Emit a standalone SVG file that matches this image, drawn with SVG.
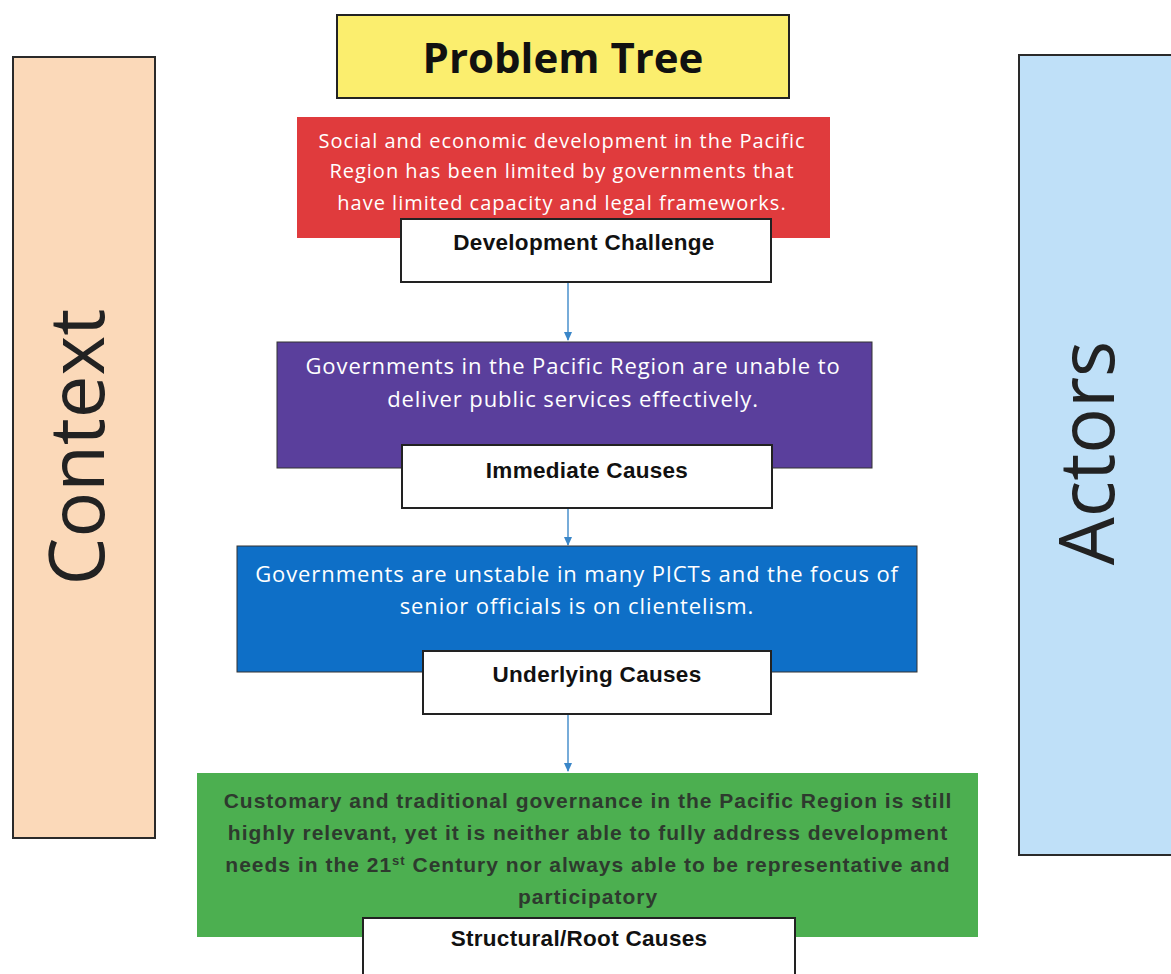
<svg xmlns="http://www.w3.org/2000/svg" width="1171" height="974" viewBox="0 0 1171 974">
<style>
.side{stroke:#2a2a2a;stroke-width:2}
.lbl{fill:#fff;stroke:#222;stroke-width:2}
.wt{font-family:"Open Sans","Liberation Sans",sans-serif;fill:#fff;text-anchor:middle}
.lt{font-family:"Liberation Sans",sans-serif;font-weight:bold;fill:#111;text-anchor:middle;font-size:22.5px;letter-spacing:0.3px}
.gt{font-family:"Liberation Sans",sans-serif;font-weight:bold;fill:#2e3a2e;text-anchor:middle;font-size:21px;letter-spacing:1px}
.big{font-family:"Open Sans","Liberation Sans",sans-serif;fill:#222;font-size:76px;text-anchor:middle}
.conn{stroke:#4a90cc;stroke-width:1.5;fill:none}
</style>
<defs>
<marker id="ah" markerWidth="10" markerHeight="10" refX="8" refY="5" orient="auto" markerUnits="userSpaceOnUse">
<path d="M0,1 L9,5 L0,9 z" fill="#3a86c8"/>
</marker>
</defs>
<rect width="1171" height="974" fill="#fff"/>
<g id="context">
<rect class="side" x="13" y="57" width="142" height="781" fill="#fbd9b9"/>
<text class="big" transform="translate(104,447) rotate(-90)">Context</text>
</g>
<g id="actors">
<rect class="side" x="1019" y="55" width="160" height="800" fill="#bfe0f8"/>
<text class="big" transform="translate(1114,453) rotate(-90)">Actors</text>
</g>
<g id="title">
<rect x="337" y="15" width="452" height="83" fill="#fbee6e" stroke="#222" stroke-width="2"/>
<text x="563" y="73" font-family="'Open Sans','Liberation Sans',sans-serif" font-weight="bold" font-size="42" fill="#111" text-anchor="middle">Problem Tree</text>
</g>
<g id="connectors">
<line class="conn" x1="568" y1="282" x2="568" y2="340" marker-end="url(#ah)"/>
<line class="conn" x1="568" y1="508" x2="568" y2="545" marker-end="url(#ah)"/>
<line class="conn" x1="568" y1="714" x2="568" y2="771" marker-end="url(#ah)"/>
</g>
<g id="challenge">
<rect x="297" y="117" width="533" height="121" fill="#e03b3d"/>
<text class="wt" font-size="20" letter-spacing="1" x="562" y="148">Social and economic development in the Pacific</text>
<text class="wt" font-size="20" letter-spacing="1" x="562" y="178">Region has been limited by governments that</text>
<text class="wt" font-size="20" letter-spacing="1" x="562" y="210">have limited capacity and legal frameworks.</text>
<rect class="lbl" x="401" y="219" width="370" height="63"/>
<text class="lt" x="584" y="250">Development Challenge</text>
</g>
<g id="immediate">
<rect x="277" y="342" width="595" height="126" fill="#5a3f9c" stroke="#333" stroke-width="1"/>
<text class="wt" font-size="22" letter-spacing="0.9" x="573" y="374">Governments in the Pacific Region are unable to</text>
<text class="wt" font-size="22" letter-spacing="0.9" x="573" y="407">deliver public services effectively.</text>
<rect class="lbl" x="402" y="445" width="370" height="63"/>
<text class="lt" x="587" y="478">Immediate Causes</text>
</g>
<g id="underlying">
<rect x="237" y="546" width="680" height="126" fill="#0e6fc7" stroke="#333" stroke-width="1"/>
<text class="wt" font-size="22" letter-spacing="0.9" x="577" y="582">Governments are unstable in many PICTs and the focus of</text>
<text class="wt" font-size="22" letter-spacing="0.9" x="577" y="614">senior officials is on clientelism.</text>
<rect class="lbl" x="423" y="651" width="348" height="63"/>
<text class="lt" x="597" y="682">Underlying Causes</text>
</g>
<g id="root">
<rect x="197" y="773" width="781" height="164" fill="#4caf50"/>
<text class="gt" x="588" y="808">Customary and traditional governance in the Pacific Region is still</text>
<text class="gt" x="588" y="840">highly relevant, yet it is neither able to fully address development</text>
<text class="gt" x="588" y="872">needs in the 21<tspan font-size="13" dy="-7">st</tspan><tspan dy="7"> Century nor always able to be representative and</tspan></text>
<text class="gt" x="588" y="904">participatory</text>
<rect class="lbl" x="363" y="918" width="432" height="70"/>
<text class="lt" x="579" y="946">Structural/Root Causes</text>
</g>
</svg>
